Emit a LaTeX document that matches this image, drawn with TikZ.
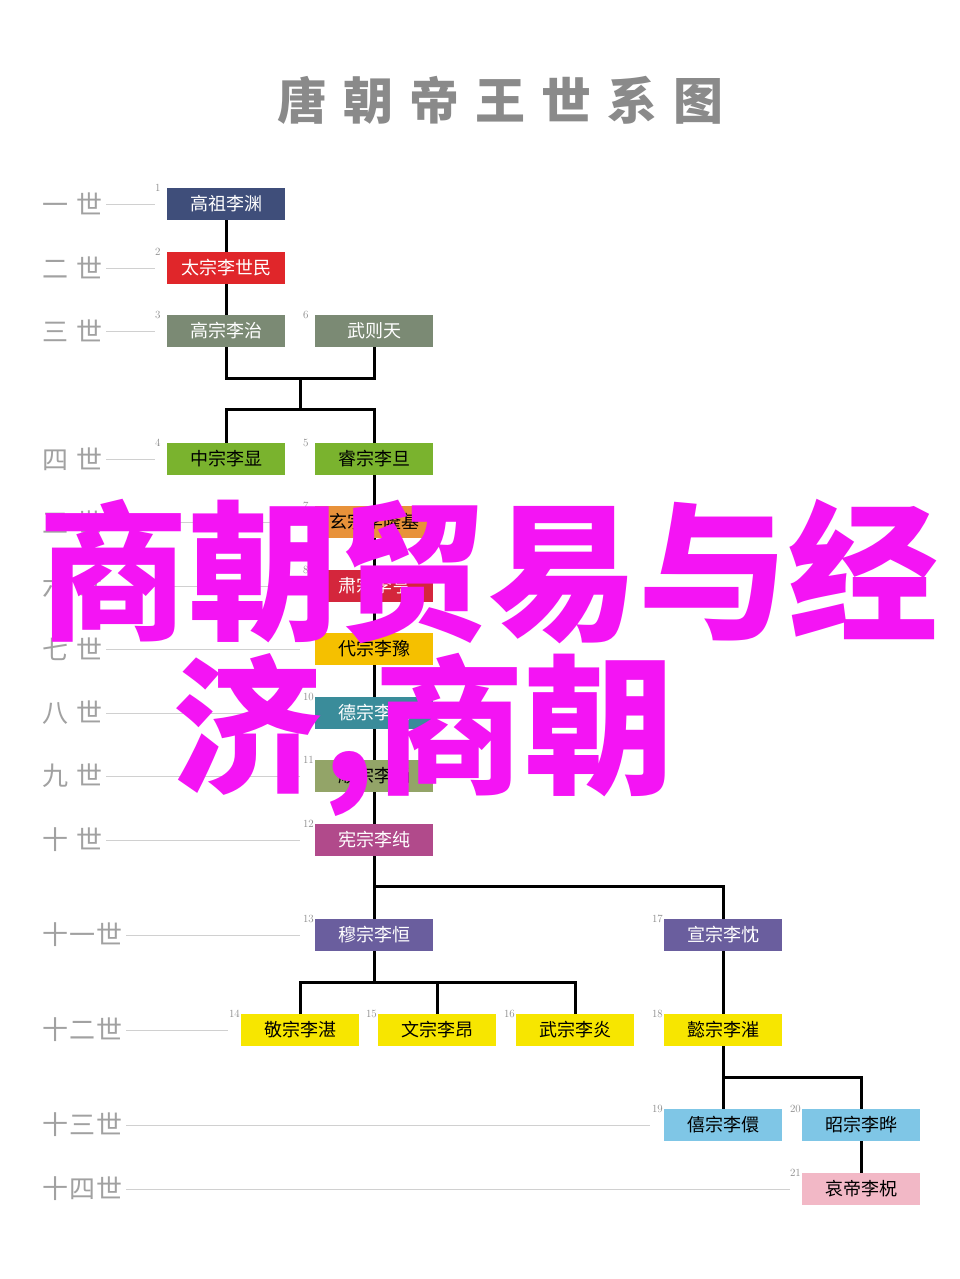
\documentclass[tikz,border=0pt]{standalone}
\usepackage{fontspec}
\newfontfamily\cjk{Noto Sans CJK SC}
\definecolor{cA}{HTML}{3F4E7A}\definecolor{cB}{HTML}{E0262A}\definecolor{cC}{HTML}{7B8A74}
\definecolor{cD}{HTML}{7AB32E}\definecolor{cE}{HTML}{E8923A}\definecolor{cF}{HTML}{D4263C}
\definecolor{cG}{HTML}{F5C000}\definecolor{cH}{HTML}{3A8C9A}\definecolor{cI}{HTML}{93A468}
\definecolor{cJ}{HTML}{B14A8B}\definecolor{cK}{HTML}{6A5E9E}\definecolor{cL}{HTML}{F7E600}
\definecolor{cM}{HTML}{7FC6E6}\definecolor{cN}{HTML}{F2B8C6}\definecolor{mag}{HTML}{F414F4}
\definecolor{gtxt}{HTML}{8A8A8A}\definecolor{gline}{HTML}{D0D0D0}
\tikzset{
 emp/.style={minimum width=118pt,minimum height=32pt,inner sep=0pt,font=\cjk\fontsize{18}{18}\selectfont},
 lab/.style={font=\cjk\fontsize{26}{26}\selectfont,text=gtxt!80,anchor=west,inner sep=0pt},
 num/.style={font=\fontsize{11}{11}\selectfont,text=gtxt,anchor=south west,inner sep=0pt},
 guide/.style={draw=gline,line width=0.8pt},
 link/.style={draw=black,line width=3pt}
}
\newcommand{\emperor}[6]{\node[emp,fill=#4,text=#5] (#1) at (#2,#3) {#6};}
\begin{document}
\begin{tikzpicture}[x=1pt,y=-1pt]
\useasboundingbox[fill=white] (0,0) rectangle (960,1279);
\node[font=\cjk\bfseries\fontsize{50}{50}\selectfont,text=gtxt] (title) at (500,100) {唐\hspace{16pt}朝\hspace{16pt}帝\hspace{16pt}王\hspace{16pt}世\hspace{16pt}系\hspace{16pt}图};
% row labels
\foreach \t/\y/\e [count=\i] in {一/204/155,二/268/155,三/331/155,四/459/155,五/522/300,六/586/300,七/649/300,八/713/300,九/776/300,十/840/300}{
 \node[lab] (r\i) at (42,\y) {\t\hspace{8pt}世};
 \coordinate (re\i) at (\e,\y);
 \draw[guide] ([xshift=4pt]r\i.east) -- (re\i);
}
\foreach \t/\y/\e [count=\i from 11] in {十\hspace{1pt}一/935/300,十\hspace{1pt}二/1030/228,十\hspace{1pt}三/1125/650,十\hspace{1pt}四/1189/790}{
 \node[lab] (r\i) at (42,\y) {\t\hspace{1pt}世};
 \coordinate (re\i) at (\e,\y);
 \draw[guide] ([xshift=4pt]r\i.east) -- (re\i);
}
% boxes
\emperor{e1}{226}{204}{cA}{white}{高祖李渊}
\emperor{e2}{226}{268}{cB}{white}{太宗李世民}
\emperor{e3}{226}{331}{cC}{white}{高宗李治}
\emperor{e6}{374}{331}{cC}{white}{武则天}
\emperor{e4}{226}{459}{cD}{black}{中宗李显}
\emperor{e5}{374}{459}{cD}{black}{睿宗李旦}
\emperor{e7}{374}{522}{cE}{black}{玄宗李隆基}
\emperor{e8}{374}{586}{cF}{white}{肃宗李亨}
\emperor{e9}{374}{649}{cG}{black}{代宗李豫}
\emperor{e10}{374}{713}{cH}{white}{德宗李适}
\emperor{e11}{374}{776}{cI}{black}{顺宗李诵}
\emperor{e12}{374}{840}{cJ}{white}{宪宗李纯}
\emperor{e13}{374}{935}{cK}{white}{穆宗李恒}
\emperor{e17}{723}{935}{cK}{white}{宣宗李忱}
\emperor{e14}{300}{1030}{cL}{black}{敬宗李湛}
\emperor{e15}{437}{1030}{cL}{black}{文宗李昂}
\emperor{e16}{575}{1030}{cL}{black}{武宗李炎}
\emperor{e18}{723}{1030}{cL}{black}{懿宗李漼}
\emperor{e19}{723}{1125}{cM}{black}{僖宗李儇}
\emperor{e20}{861}{1125}{cM}{black}{昭宗李晔}
\emperor{e21}{861}{1189}{cN}{black}{哀帝李柷}
\foreach \i in {1,...,21}{\node[num] at ([xshift=-12pt,yshift=-4pt]e\i.north west) {\i};}
% connectors
\draw[link] (e1) -- (e2); \draw[link] (e2) -- (e3);
\draw[link] (e3.south) -- ++(0,31) -| (e6.south);
\draw[link] (300,378) -- (300,410);
\draw[link] (e4.north) -- ++(0,-33) -| (e5.north);
\foreach \a/\b in {5/7,7/8,8/9,9/10,10/11,11/12}{\draw[link] (e\a) -- (e\b);}
\draw[link] (e12.south) -- ++(0,30) -| (e17.north);
\draw[link] (e12) -- (e13);
\draw[link] (e13.south) -- ++(0,31) coordinate (b13);
\draw[link] (e14.north) |- (b13) -| (e16.north);
\draw[link] (e15.north) -- ++(0,-30);
\draw[link] (e17) -- (e18);
\draw[link] (e18.south) -- ++(0,31) -| (e20.north);
\draw[link] (e18) -- (e19);
\draw[link] (e20) -- (e21);
% overlay text
\node[font=\cjk\bfseries\fontsize{150}{150}\selectfont,text=mag,anchor=west,inner sep=0pt] (ov1) at (38,572) {商朝贸易与经};
\node[font=\cjk\bfseries\fontsize{150}{150}\selectfont,text=mag,anchor=west,inner sep=0pt] (ov2) at (172,735) {济,商朝};
\end{tikzpicture}
\end{document}
